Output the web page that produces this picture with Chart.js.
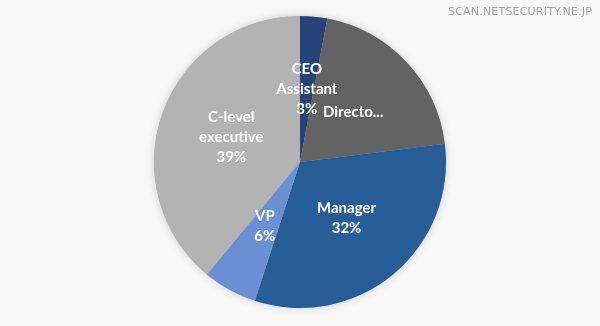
<!DOCTYPE html>
<html>
<head>
<meta charset="utf-8">
<script src="https://cdn.jsdelivr.net/npm/chart.js@4"></script>
<style>
  html, body { margin: 0; padding: 0; background: #f8f8f8; }
  #wrap { position: relative; width: 600px; height: 326px; }
  #mark {
    position: absolute; right: 8px; top: 5px;
    font: 11px "DejaVu Sans", sans-serif; color: #a0a0a0; letter-spacing: 0.2px;
  }
</style>
</head>
<body>
<div id="wrap">
  <canvas id="pie" width="600" height="326"></canvas>
  <div id="mark">SCAN.NETSECURITY.NE.JP</div>
</div>
<script>
const categories = ["CEO Assistant", "Director", "Manager", "VP", "C-level executive"];
const labelLines = [["CEO", "Assistant", "3%"], ["Directo..."], ["Manager", "32%"], ["VP", "6%"], ["C-level", "executive", "39%"]];
const shares = [3, 20, 32, 6, 39];
const colors = ["#264478", "#636363", "#275e98", "#6a8fd3", "#b3b3b3"];

// white data labels at the middle of each slice
const sliceLabels = {
    id: "sliceLabels",
    afterDatasetsDraw(chart) {
        const ctx = chart.ctx;
        const arcs = chart.getDatasetMeta(0).data;
        ctx.save();
        ctx.fillStyle = "#ffffff";
        ctx.font = "bold 15px Lato, 'Open Sans', sans-serif";
        ctx.textAlign = "center";
        ctx.textBaseline = "middle";
        arcs.forEach((arc, i) => {
            const p = arc.tooltipPosition();
            const lines = labelLines[i];
            const lh = 20;
            const y0 = p.y - (lines.length - 1) * lh / 2;
            lines.forEach((t, k) => ctx.fillText(t, p.x, y0 + k * lh));
        });
        ctx.restore();
    }
};

// soft shadow behind the pie
const pieShadow = {
    id: "pieShadow",
    beforeDatasetsDraw(chart) {
        const a = chart.getDatasetMeta(0).data[0];
        const ctx = chart.ctx;
        ctx.save();
        ctx.shadowColor = "rgba(0,0,0,0.18)";
        ctx.shadowBlur = 8;
        ctx.fillStyle = "#b3b3b3";
        ctx.beginPath();
        ctx.arc(a.x, a.y, a.outerRadius, 0, Math.PI * 2);
        ctx.fill();
        ctx.restore();
    }
};

new Chart(document.getElementById("pie"), {
    type: "pie",
    data: {
        labels: categories,
        datasets: [{
            data: shares,
            backgroundColor: colors,
            borderWidth: 0
        }]
    },
    options: {
        responsive: false,
        animation: false,
        layout: { padding: { top: 16, bottom: 18 } },
        plugins: {
            legend: { display: false },
            tooltip: { enabled: false }
        }
    },
    plugins: [pieShadow, sliceLabels]
});
</script>
</body>
</html>
